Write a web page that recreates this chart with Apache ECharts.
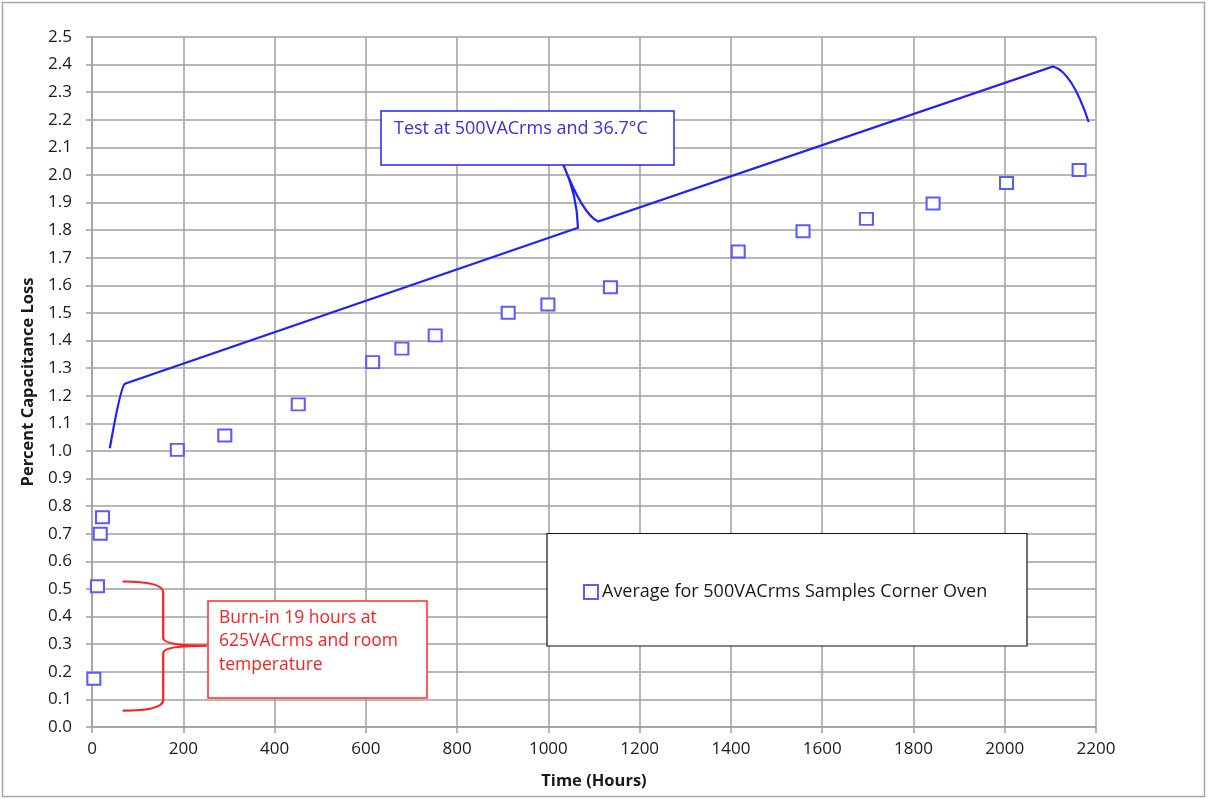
<!doctype html>
<html lang="en">
<head>
    <meta charset="UTF-8">
    <title>Percent Capacitance Loss</title>
    <style>
        html, body { margin: 0; padding: 0; background: #fff; }
        #main { width: 1208px; height: 799px; }
    </style>
</head>
<body>
    <div id="main"></div>
</body>
<script src="https://cdn.jsdelivr.net/npm/echarts@6/dist/echarts.min.js"></script>
<script type="text/javascript">
    // data
    const hours = [4, 12, 18, 23, 187, 291, 452, 615, 679, 752, 912, 999, 1136, 1416, 1558, 1697, 1843, 2004, 2163]
    const loss = [0.175, 0.51, 0.70, 0.76, 1.004, 1.056, 1.169, 1.322, 1.371, 1.419, 1.501, 1.531, 1.593, 1.723, 1.796, 1.841, 1.897, 1.971, 2.018]
    const seriesName = 'Average for 500VACrms Samples Corner Oven'

    // brace shapes in data units: M = move, L = line, Q = quad curve (ctrl, end)
    const blueBrace = [
        ['M', [39, 1.01]],
        ['Q', [63, 1.236], [72, 1.244]],
        ['L', [1065, 1.809]],
        ['Q', [1063, 1.929], [1032, 2.04]],
        ['Q', [1076, 1.856], [1109, 1.831]],
        ['L', [2106, 2.393]],
        ['Q', [2147, 2.375], [2184, 2.192]]
    ]
    const redBrace = [
        ['M', [67, 0.527]],
        ['Q', [156, 0.526], [156, 0.489]],
        ['L', [156, 0.323]],
        ['Q', [156, 0.295], [252, 0.295]],
        ['Q', [156, 0.295], [156, 0.268]],
        ['L', [156, 0.098]],
        ['Q', [156, 0.059], [67, 0.059]]
    ]

    const myChart = echarts.init(document.getElementById('main'))
    const gridColor = '#a0a0a0'
    const font = '"Open Sans", Lato, sans-serif'

    // turn a brace list into an svg path through the axes
    function bracePath(api, cmds) {
        let d = ''
        cmds.forEach(c => {
            const pts = c.slice(1).map(p => api.coord(p))
            d += c[0] + ' ' + pts.map(p => p[0].toFixed(1) + ' ' + p[1].toFixed(1)).join(' ') + ' '
        })
        return d
    }
    function braceSeries(cmds, color) {
        return {
            type: 'custom',
            data: [[cmds[0][1][0], cmds[0][1][1]]],
            clip: false,
            silent: true,
            z: 3,
            renderItem: function (params, api) {
                return {
                    type: 'path',
                    shape: { pathData: bracePath(api, cmds) },
                    style: { fill: 'none', stroke: color, lineWidth: 2.2 }
                }
            }
        }
    }

    const option = {
        backgroundColor: '#fff',
        animation: false,
        grid: { left: 92, top: 37, width: 1004, height: 690 },
        legend: {
            data: [seriesName],
            left: 583,
            top: 583,
            padding: 0,
            z: 6,
            icon: 'rect',
            itemWidth: 14,
            itemHeight: 14,
            itemGap: 5,
            itemStyle: { color: '#fff', borderColor: '#5b5bff', borderWidth: 2 },
            textStyle: { fontFamily: font, fontSize: 18, lineHeight: 14, color: '#1a1a1a', padding: [0, 0, 0, -1] }
        },
        xAxis: {
            type: 'value',
            min: 0,
            max: 2200,
            interval: 200,
            name: 'Time (Hours)',
            nameLocation: 'middle',
            nameGap: 46,
            nameTextStyle: { fontFamily: font, fontSize: 16.5, fontWeight: 'bold', color: '#1a1a1a' },
            axisLine: { show: true, lineStyle: { color: gridColor, width: 1.5 } },
            axisTick: { show: true, length: 6, lineStyle: { color: gridColor, width: 1.5 } },
            axisLabel: {
                margin: 14,
                fontFamily: font, fontSize: 17, color: '#1a1a1a',
                formatter: v => String(v)
            },
            splitLine: { show: true, lineStyle: { color: gridColor, width: 1.5 } }
        },
        yAxis: {
            type: 'value',
            min: 0,
            max: 2.5,
            interval: 0.1,
            name: 'Percent Capacitance Loss',
            nameLocation: 'middle',
            nameGap: 55,
            nameTextStyle: { fontFamily: font, fontSize: 16.5, fontWeight: 'bold', color: '#1a1a1a' },
            axisLine: { show: true, lineStyle: { color: gridColor, width: 1.5 } },
            axisTick: { show: true, length: 6, lineStyle: { color: gridColor, width: 1.5 } },
            axisLabel: {
                margin: 20,
                fontFamily: font, fontSize: 17, color: '#1a1a1a',
                formatter: v => v.toFixed(1)
            },
            splitLine: { show: true, lineStyle: { color: gridColor, width: 1.5 } }
        },
        graphic: [
            // outer frame
            { type: 'rect', z: 0, silent: true, shape: { x: 2.5, y: 2.5, width: 1202, height: 794 },
              style: { fill: 'none', stroke: '#a6a6a6', lineWidth: 1.5 } },
            // legend box
            { type: 'rect', z: 5, silent: true, shape: { x: 547, y: 533.5, width: 480, height: 112.5 },
              style: { fill: '#fff', stroke: '#111', lineWidth: 1.2 } },
            // blue note
            { type: 'rect', z: 10, silent: true, shape: { x: 381, y: 111, width: 293, height: 54 },
              style: { fill: '#fff', stroke: '#2424ff', lineWidth: 1.5 } },
            { type: 'text', z: 11, silent: true, x: 394, y: 129,
              style: { text: 'Test at 500VACrms and 36.7°C', fontFamily: font, fontSize: 18, fill: '#3a2ee6', verticalAlign: 'middle' } },
            // red note
            { type: 'rect', z: 10, silent: true, shape: { x: 208, y: 601, width: 219, height: 97 },
              style: { fill: '#fff', stroke: '#ff2a2a', lineWidth: 1.5 } },
            { type: 'text', z: 11, silent: true, x: 219, y: 641.5,
              style: { text: 'Burn-in 19 hours at\n625VACrms and room\ntemperature', fontFamily: font, fontSize: 17.5, lineHeight: 23.5, fill: '#ff1f1f', verticalAlign: 'middle' } }
        ],
        series: [
            {
                name: seriesName,
                type: 'scatter',
                symbol: 'rect',
                symbolSize: [13, 12],
                z: 4,
                itemStyle: { color: '#fff', borderColor: '#5b5bff', borderWidth: 2, opacity: 1 },
                data: hours.map((h, i) => [h, loss[i]])
            },
            braceSeries(blueBrace, '#1f1fff'),
            braceSeries(redBrace, '#ff1f1f')
        ]
    }
    myChart.setOption(option)
</script>
</html>
